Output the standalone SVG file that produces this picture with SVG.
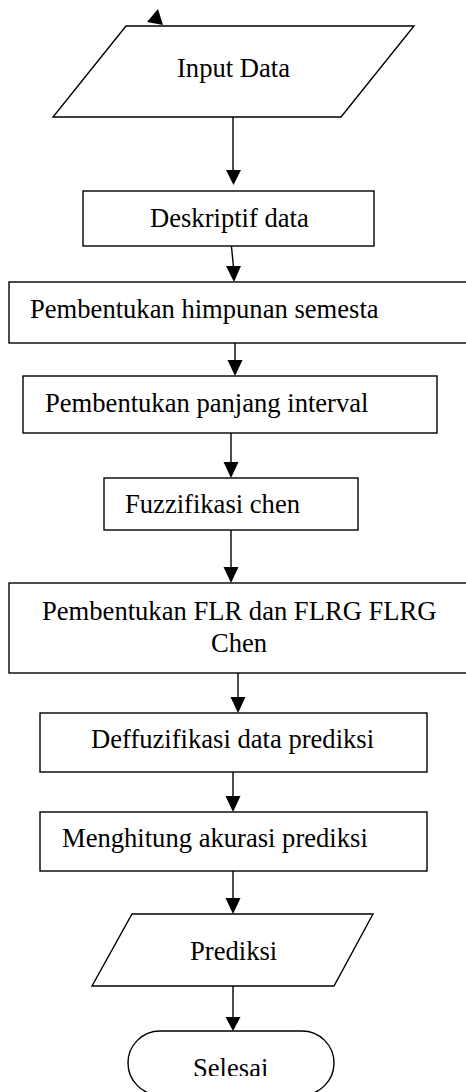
<svg xmlns="http://www.w3.org/2000/svg" width="466" height="1092" viewBox="0 0 466 1092">
<style>
.s{fill:#fff;stroke:#000;stroke-width:1.4}
.t{font-family:"Liberation Serif","Times New Roman",serif;font-size:26.6px;fill:#000}
.c{stroke:#000;stroke-width:1.4;fill:none}
.h{fill:#000;stroke:none}
</style>
<defs>
<clipPath id="clipSel"><rect x="0" y="1000" width="466" height="76"/></clipPath>
</defs>
<rect width="466" height="1092" fill="#fff"/>
<g id="connectors">
<polygon class="h" points="147,22 158,9 163,25"/>
<line class="c" x1="233" y1="117" x2="233" y2="171"/>
<polygon class="h" points="226,170 241,170 233.5,185"/>
<line class="c" x1="231" y1="242" x2="233.5" y2="267"/>
<polygon class="h" points="226,266 241,266 234,282"/>
<line class="c" x1="235" y1="333" x2="235" y2="361"/>
<polygon class="h" points="227.5,360 242.5,360 235,376"/>
<line class="c" x1="231" y1="433" x2="231" y2="463"/>
<polygon class="h" points="223.5,462 238.5,462 231,478"/>
<line class="c" x1="231" y1="530" x2="231" y2="568"/>
<polygon class="h" points="223.5,567 238.5,567 231,583"/>
<line class="c" x1="238" y1="673" x2="238" y2="698"/>
<polygon class="h" points="230.5,697 245.5,697 238,713"/>
<line class="c" x1="233" y1="772" x2="233" y2="797"/>
<polygon class="h" points="225.5,796 240.5,796 233,812"/>
<line class="c" x1="233" y1="871" x2="233" y2="899"/>
<polygon class="h" points="225.5,898 240.5,898 233,914"/>
<line class="c" x1="233" y1="986" x2="233" y2="1018"/>
<polygon class="h" points="225.5,1017 240.5,1017 233,1031"/>
</g>
<g id="input">
<polygon class="s" points="126,26 414,26 341,117 53,117"/>
<text class="t" x="177" y="77">Input Data</text>
</g>
<g id="deskriptif">
<rect class="s" x="83" y="191" width="291" height="55"/>
<text class="t" x="150" y="227">Deskriptif data</text>
</g>
<g id="himpunan">
<rect class="s" x="9" y="282" width="470" height="61"/>
<text class="t" x="30" y="318">Pembentukan himpunan semesta</text>
</g>
<g id="panjang">
<rect class="s" x="23" y="376" width="414" height="57"/>
<text class="t" x="45" y="412">Pembentukan panjang interval</text>
</g>
<g id="fuzzifikasi">
<rect class="s" x="104" y="478" width="254" height="52"/>
<text class="t" x="125" y="513">Fuzzifikasi chen</text>
</g>
<g id="flr">
<rect class="s" x="9" y="583" width="470" height="90"/>
<text class="t" x="42" y="620">Pembentukan FLR dan FLRG FLRG</text>
<text class="t" x="211" y="652">Chen</text>
</g>
<g id="deffuzifikasi">
<rect class="s" x="40" y="713" width="387" height="59"/>
<text class="t" x="91" y="748">Deffuzifikasi data prediksi</text>
</g>
<g id="akurasi">
<rect class="s" x="40" y="812" width="387" height="59"/>
<text class="t" x="62" y="847">Menghitung akurasi prediksi</text>
</g>
<g id="prediksi">
<polygon class="s" points="132,914 373,914 334,986 92,986"/>
<text class="t" x="190" y="960">Prediksi</text>
</g>
<g id="selesai">
<rect class="s" x="128" y="1031" width="206" height="64" rx="32" ry="32"/>
<text class="t" x="193" y="1077" clip-path="url(#clipSel)">Selesai</text>
</g>
</svg>
